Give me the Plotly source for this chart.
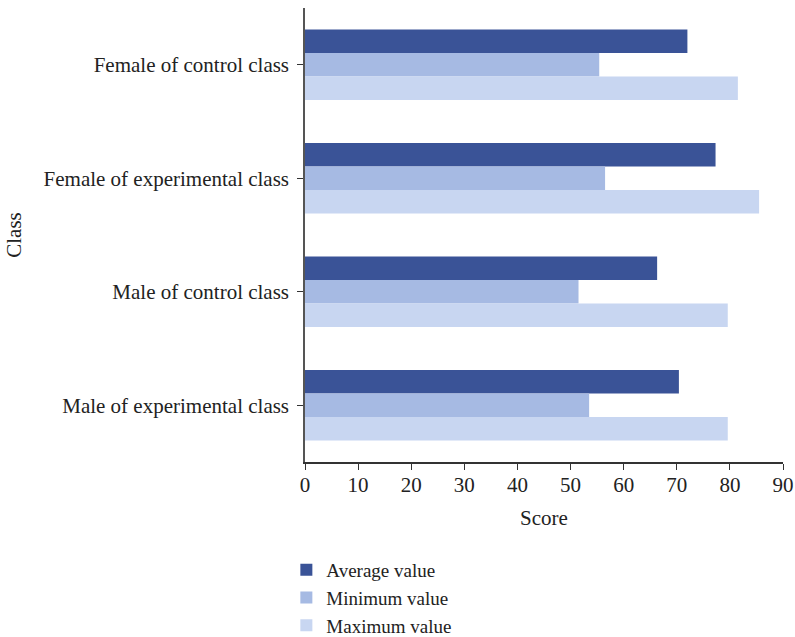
import plotly.graph_objects as go

categories = ["Female of control class", "Female of experimental class",
              "Male of control class", "Male of experimental class"]
average_vals = [72.0, 77.3, 66.3, 70.4]
minimum_vals = [55.4, 56.5, 51.5, 53.5]
maximum_vals = [81.5, 85.5, 79.6, 79.6]
x_ticks = [0, 10, 20, 30, 40, 50, 60, 70, 80, 90]

FONT = "Liberation Serif"
FS = 21

fig = go.Figure()
fig.add_trace(go.Bar(y=categories, x=average_vals, orientation="h", name="Average value",
                     marker=dict(color="#3A5397", line=dict(width=0))))
fig.add_trace(go.Bar(y=categories, x=minimum_vals, orientation="h", name="Minimum value",
                     marker=dict(color="#A6BAE3", line=dict(width=0))))
fig.add_trace(go.Bar(y=categories, x=maximum_vals, orientation="h", name="Maximum value",
                     marker=dict(color="#C8D6F1", line=dict(width=0))))

fig.update_layout(
    width=795, height=637,
    margin=dict(l=305, r=12, t=8, b=175, autoexpand=False),
    paper_bgcolor="white", plot_bgcolor="white",
    barmode="group", bargap=0.38, bargroupgap=0,
    font=dict(family=FONT, size=FS, color="#222222"),
    showlegend=True,
    legend=dict(x=-0.039, xanchor="left", y=-0.196, yanchor="top",
                orientation="v", font=dict(family=FONT, size=19),
                traceorder="normal", itemwidth=30, tracegroupgap=0),
    xaxis=dict(range=[0, 90], tickvals=x_ticks, showgrid=False, zeroline=False,
               showline=True, linecolor="#333333", linewidth=1.5, automargin=False,
               ticks="outside", ticklen=6, tickcolor="#333333", ticklabelstandoff=-3,
               title=dict(text="Score", font=dict(size=FS), standoff=14)),
    yaxis=dict(categoryorder="array", categoryarray=categories, autorange="reversed",
               showgrid=False, zeroline=False, showline=True, linecolor="#555555",
               linewidth=1.5, ticks="outside", ticklen=6, tickcolor="#333333",
               automargin=False, ticklabelstandoff=4,
               title=dict(text="Class", font=dict(size=FS), standoff=16)),
)

# remove the default 8px page margin so the 795x637 figure fills the window
fig.write_html("out.html",
               config={"displayModeBar": False},
               post_script="document.body.style.margin='0';document.body.style.overflow='hidden';")
